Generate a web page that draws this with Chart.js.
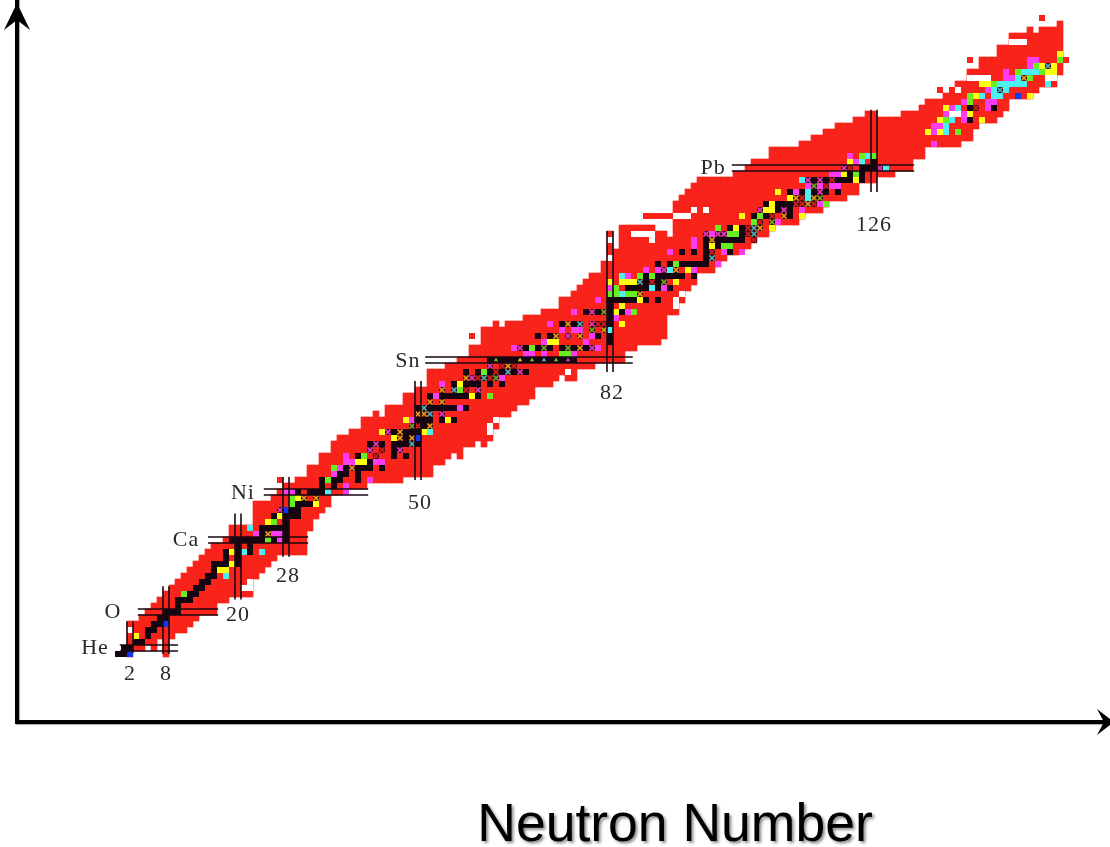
<!DOCTYPE html>
<html><head><meta charset="utf-8">
<style>html,body{margin:0;padding:0;background:#fff}#wrap{width:1110px;height:847px}canvas{display:block}</style>
<script src="https://cdn.jsdelivr.net/npm/chart.js@4"></script>
</head><body><div id="wrap"><canvas id="c"></canvas></div>
<script>
const xAxisTitle = "Neutron Number";
const neutrons = [2,3,4,5,6,7,8,9,10,11,12,13,14,15,16,17,18,19,20,21,22,23,24,25,26,27,28,29,30,31,32,33,34,35,36,37,38,39,40,41,42,43,44,45,46,47,48,49,50,51,52,53,54,55,56,57,58,59,60,61,62,63,64,65,66,67,68,69,70,71,72,73,74,75,76,77,78,79,80,81,82,83,84,85,86,87,88,89,90,91,92,93,94,95,96,97,98,99,100,101,102,103,104,105,106,107,108,109,110,111,112,113,114,115,116,117,118,119,120,121,122,123,124,125,126,127,128,129,130,131,132,133,134,135,136,137,138,139,140,141,142,143,144,145,146,147,148,149,150,151,152,153,154,155,156,157];
const bandTop = [6,6,7,8,9,10,11,12,13,14,15,16,17,18,19,19,20,22,22,22,22,26,26,26,27,28,29,29,30,30,32,32,34,34,36,37,37,38,38,40,40,41,40,42,42,42,44,44,45,45,48,48,48,49,49,50,50,52,52,55,55,56,55,56,56,56,57,57,57,58,58,58,60,60,61,62,63,64,64,66,71,68,72,72,72,72,72,72,71,71,70,76,77,78,79,80,80,80,80,80,80,81,81,82,83,83,83,85,85,85,85,85,86,86,87,87,88,88,89,89,89,90,90,91,91,90,90,90,90,91,91,91,92,93,93,93,94,94,96,96,98,98,100,100,100,102,102,104,104,104,105,104,105,105,105,106];
const bandBottom = [1,2,2,3,2,4,1,4,5,5,6,7,8,8,8,10,10,11,11,11,11,14,15,16,17,18,18,18,18,18,22,24,25,26,28,28,29,29,29,29,30,30,30,30,30,30,31,31,31,31,31,33,33,34,35,34,36,36,37,36,37,39,41,41,42,43,43,44,46,46,46,47,48,47,47,49,49,49,50,50,50,50,50,52,52,53,53,53,53,54,58,58,60,62,63,65,65,65,66,67,68,68,69,69,70,71,71,72,73,73,73,73,74,75,75,75,76,77,77,77,78,78,80,80,80,81,81,81,82,82,82,84,84,86,86,86,86,86,86,87,87,89,90,90,90,91,92,94,94,94,94,95,96,96,96,98];
const islandCells = [[27,30],[59,54],[88,74],[89,74],[90,74],[91,74],[92,74],[137,95],[139,95],[142,100],[154,107],[158,100]];
const gapCells = [[2,5],[21,12],[22,12],[22,13],[62,38],[62,39],[63,40],[75,48],[82,67],[82,70],[86,71],[87,71],[88,71],[89,71],[89,70],[93,74],[94,74],[95,74],[93,59],[93,60],[94,61],[96,75],[98,75],[139,91],[140,91],[140,95],[142,97],[143,97],[144,97],[145,97],[149,103],[150,103],[151,103],[155,97],[156,97]];
const blackCells = [[0,1],[1,1],[1,2],[2,2],[3,3],[4,3],[5,4],[5,5],[6,5],[6,6],[7,6],[7,7],[8,7],[8,8],[9,8],[10,8],[10,9],[10,10],[11,10],[12,10],[12,11],[13,11],[13,12],[14,12],[14,13],[15,13],[15,14],[16,14],[16,15],[16,16],[17,16],[18,16],[18,17],[18,18],[20,16],[20,17],[20,18],[20,19],[20,20],[19,20],[21,20],[22,20],[22,19],[22,18],[23,20],[24,20],[25,21],[26,20],[28,20],[24,21],[24,22],[25,22],[26,22],[27,22],[26,24],[28,21],[28,22],[28,23],[28,24],[29,24],[29,25],[30,24],[30,25],[30,26],[31,26],[32,26],[30,28],[32,28],[33,28],[34,28],[34,29],[34,30],[36,29],[36,30],[37,30],[37,31],[36,31],[38,31],[38,32],[40,30],[40,31],[40,32],[41,32],[42,32],[42,33],[40,34],[44,32],[42,36],[44,36],[46,34],[46,35],[46,36],[46,38],[47,36],[48,34],[48,36],[48,37],[48,38],[49,38],[50,36],[50,38],[50,40],[50,42],[51,39],[51,40],[52,40],[52,42],[53,42],[54,42],[55,42],[56,42],[58,42],[54,40],[56,40],[52,44],[54,44],[55,44],[56,44],[57,44],[58,44],[60,44],[56,46],[58,46],[59,46],[60,46],[62,46],[64,46],[58,48],[60,48],[62,48],[64,48],[66,48],[68,48],[62,50],[63,50],[64,50],[65,50],[66,50],[67,50],[68,50],[69,50],[70,50],[71,50],[72,50],[73,50],[74,50],[75,50],[76,50],[68,52],[70,52],[72,52],[74,52],[76,52],[78,52],[70,54],[72,54],[74,56],[76,56],[78,58],[80,58],[80,54],[82,60],[82,59],[82,58],[82,57],[82,56],[82,54],[82,53],[83,60],[84,60],[85,60],[86,60],[88,60],[90,60],[84,58],[85,62],[86,62],[87,62],[88,62],[90,62],[92,62],[88,63],[90,63],[88,64],[90,64],[91,64],[92,64],[93,64],[94,64],[96,64],[90,66],[92,66],[94,66],[95,66],[96,66],[97,66],[98,66],[98,67],[94,68],[96,68],[98,68],[102,68],[98,69],[100,69],[98,70],[100,70],[101,70],[102,70],[103,70],[104,70],[104,71],[102,72],[104,72],[106,74],[108,74],[110,75],[112,74],[112,75],[108,76],[110,76],[111,76],[112,76],[112,78],[114,78],[116,78],[118,78],[120,78],[116,80],[118,80],[120,80],[121,80],[122,80],[124,80],[122,81],[124,81],[124,82],[125,82],[126,82],[126,83],[142,90],[142,92],[146,92]];
const yellowCells = [[3,4],[17,15],[18,15],[19,16],[19,18],[25,23],[27,24],[30,27],[33,26],[40,33],[41,33],[44,38],[46,37],[48,40],[51,38],[55,40],[59,44],[57,46],[72,53],[73,53],[84,56],[84,59],[83,58],[84,63],[85,63],[86,63],[87,60],[93,63],[95,65],[99,69],[82,63],[103,72],[104,74],[108,75],[109,75],[109,76],[109,72],[110,78],[112,77],[114,74],[121,81],[123,80],[122,83],[135,88],[137,88],[137,90],[144,90],[138,92],[142,91],[143,94],[144,96],[145,96],[152,94],[155,98],[156,98],[154,99],[156,99],[157,101]];
const magentaCells = [[23,21],[26,21],[27,21],[27,20],[28,28],[29,28],[38,29],[38,28],[36,31],[38,33],[39,33],[38,34],[37,32],[42,30],[43,33],[44,33],[49,40],[53,44],[54,46],[57,42],[64,47],[66,52],[71,53],[74,55],[76,55],[77,55],[72,56],[76,58],[78,53],[79,54],[80,52],[68,51],[69,51],[71,51],[76,51],[80,60],[82,62],[83,57],[85,58],[85,64],[88,65],[90,65],[96,65],[91,62],[92,68],[96,69],[96,70],[99,71],[100,66],[101,68],[104,68],[110,73],[114,75],[113,78],[115,79],[117,79],[119,79],[120,79],[117,76],[119,81],[120,81],[122,84],[123,83],[136,86],[136,88],[136,89],[137,89],[138,91],[141,90],[141,91],[139,92],[141,93],[145,92],[145,93],[146,93],[145,95],[148,97],[149,97],[148,98],[152,99],[152,100],[153,100]];
const greenCells = [[11,11],[25,20],[26,23],[29,26],[29,27],[35,30],[36,32],[41,34],[57,45],[61,48],[62,44],[69,52],[74,51],[75,51],[82,61],[83,62],[83,61],[85,61],[86,61],[86,58],[87,64],[89,64],[93,66],[100,72],[101,69],[102,69],[102,71],[103,71],[106,73],[107,74],[118,76],[123,81],[124,84],[126,84],[140,88],[138,90],[142,93],[142,94],[146,96],[150,98],[152,97],[153,99],[154,98],[157,100]];
const cyanCells = [[18,14],[21,18],[22,22],[24,18],[35,28],[52,38],[82,55],[84,64],[84,61],[89,62],[92,65],[114,80],[115,78],[115,77],[124,83],[125,84],[128,82],[138,88],[138,89],[139,90],[140,92],[144,94],[146,94],[147,94],[146,95],[148,95],[147,96],[148,96],[149,96],[150,96],[151,96],[150,97],[151,98],[152,98],[153,98],[155,96]];
const blueCells = [[2,1],[8,6],[28,25],[50,37],[150,94]];
const orangeCross = [[25,21],[31,27],[33,27],[39,32],[47,37],[47,38],[49,37],[50,41],[51,41],[52,39],[52,43],[54,43],[54,45],[58,47],[65,49],[77,52],[73,54],[77,54],[75,56],[81,55],[87,61],[93,65],[99,70],[107,72],[111,74],[113,77],[115,76],[116,77],[151,97]];
const magentaCross = [[27,25],[43,36],[42,35],[45,38],[47,35],[54,41],[59,47],[60,45],[62,49],[67,48],[67,52],[75,54],[79,52],[79,56],[79,58],[91,65],[98,71],[100,71],[101,71],[107,75],[111,75],[115,80],[117,80],[117,78],[121,82],[127,82]];
const redCross = [[43,34],[44,35],[50,39],[58,45],[60,47],[62,47],[63,48],[64,49],[66,49],[81,56],[80,56],[89,63],[99,68],[105,71],[105,72],[107,73],[109,74],[113,76],[114,76],[114,77],[116,76],[118,79],[119,80],[122,82],[143,92],[106,70]];
const greenCross = [[49,39],[63,47],[71,52],[75,52],[79,55],[81,58],[91,63],[109,73],[116,79],[117,77]];
const cyanCross = [[49,36],[51,42],[52,41],[65,48],[77,56],[106,72],[56,45],[61,47],[87,63],[106,71],[147,95],[155,99],[99,67]];
const tinyGreen = [[63,50],[69,50],[73,50]];
const tinyYellow = [[67,50]];
const tinyCyan = [[71,50]];
const tinyMagenta = [[75,50]];
const magicNeutrons = [2,8,20,28,50,82,126];
const magicNeutronFrom = [1.2,1,10.1,17.2,30,48,78];
const magicNeutronTo = [6.4,12.3,24.4,30.5,46.5,71.5,91.7];
const magicProtons = [2,8,20,28,50,82];
const magicProtonFrom = [0.3,3.3,15,24.3,51.2,102.3];
const magicProtonTo = [10,16.7,31.7,41.7,85.8,132.7];
const labelTexts = ["He","O","Ca","Ni","Sn","Pb","2","8","20","28","50","82","126"];
const labelN = [-3.83,-0.83,11.33,20.83,48.33,99.17,2,8,20,28.33,50.33,82.33,126];
const labelZ = [2,8,20,27.83,49.83,82,-2.33,-2.33,7.5,14,26.17,44.5,72.5];

const RED='#f8231a', INK='#140510';
const toPts = a => a.map(p => ({x:p[0], y:p[1]}));
const cells = (pts,color) => ({type:'scatter',data:toPts(pts),pointStyle:'rect',pointRadius:3*Math.SQRT2,pointHoverRadius:3*Math.SQRT2,pointBackgroundColor:color,pointBorderWidth:0,showLine:false});
const crosses = (pts,color) => ({type:'scatter',data:toPts(pts),pointStyle:'crossRot',pointRadius:3.6,pointHoverRadius:3.6,pointBorderColor:color,pointBorderWidth:1.6,showLine:false});
const tiny = (pts,color) => ({type:'scatter',data:toPts(pts),pointStyle:'triangle',pointRadius:2.4,pointHoverRadius:2.4,pointBackgroundColor:color,pointBorderWidth:0,showLine:false});
const segV = [], segH = [];
magicNeutrons.forEach((n,i) => { for (const d of [-0.5,0.5]) segV.push({x:n+d,y:magicNeutronFrom[i]},{x:n+d,y:magicNeutronTo[i]},{x:n+d,y:null}); });
magicProtons.forEach((z,i) => { for (const d of [-0.5,0.5]) segH.push({x:magicProtonFrom[i],y:z+d},{x:magicProtonTo[i],y:z+d},{x:magicProtonTo[i],y:null}); });
const lines = d => ({type:'scatter',data:d,showLine:true,spanGaps:false,borderColor:'#1a0a12',borderWidth:1.6,pointRadius:0,pointHoverRadius:0});

const allCross = orangeCross.concat(magentaCross,redCross,greenCross,cyanCross);
const layers = [
  {type:'bar',data:neutrons.map((n,i)=>({x:n,y:[bandBottom[i]-0.5,bandTop[i]+0.5]})),backgroundColor:RED,borderWidth:0,barThickness:6,grouped:false},
  cells(islandCells,RED),
  cells(gapCells,'#ffffff'),
  cells(blackCells,INK),
  cells(yellowCells,'#ffff10'),
  cells(magentaCells,'#fa3cf5'),
  cells(greenCells,'#66ee20'),
  cells(cyanCells,'#4df0f0'),
  cells(blueCells,'#1438f0'),
  cells(allCross,'#3a0810'),
  crosses(orangeCross,'#f5a010'),
  crosses(magentaCross,'#f03cc8'),
  crosses(redCross,'#e02018'),
  crosses(greenCross,'#70b020'),
  crosses(cyanCross,'#50b8c0'),
  tiny(tinyGreen,'#70d020'),
  tiny(tinyYellow,'#e8e010'),
  tiny(tinyCyan,'#50c8d8'),
  tiny(tinyMagenta,'#f03cc8'),
  lines(segV),
  lines(segH)
];
const datasets = layers.slice().reverse();

const decor = {
  id:'decor',
  beforeDraw(ch){ const c=ch.ctx; c.shadowColor='rgba(0,0,0,.35)'; c.shadowOffsetX=1; c.shadowOffsetY=1; c.shadowBlur=1; },
  beforeDatasetsDraw(ch){ const c=ch.ctx; c.shadowColor='transparent'; c.shadowOffsetX=0; c.shadowOffsetY=0; c.shadowBlur=0; },
  afterDraw(ch){
    const c=ch.ctx, a=ch.chartArea, xs=ch.scales.x, ys=ch.scales.y;
    c.save();
    c.fillStyle='#000';
    const L=a.left, B=a.bottom;
    c.beginPath(); c.moveTo(L,3); c.lineTo(L-13,30); c.lineTo(L,20); c.lineTo(L+13,30); c.closePath(); c.fill();
    const R=a.right+4;
    c.beginPath(); c.moveTo(R,B); c.lineTo(R-17,B-13); c.lineTo(R-10,B); c.lineTo(R-17,B+13); c.closePath(); c.fill();
    c.textAlign='center'; c.textBaseline='middle';
    c.fillStyle='#2a2a2a'; c.font='22px "Liberation Serif"'; c.letterSpacing='1px';
    labelTexts.forEach((t,i)=>c.fillText(t,xs.getPixelForValue(labelN[i]),ys.getPixelForValue(labelZ[i])));
    c.letterSpacing='0px';
    c.shadowColor='rgba(0,0,0,.45)'; c.shadowOffsetX=2; c.shadowOffsetY=2; c.shadowBlur=3;
    c.fillStyle='#000'; c.font='53.5px "Liberation Sans"';
    c.fillText(xAxisTitle,xs.getPixelForValue(92.83),ys.getPixelForValue(-27.7));
    c.restore();
  }
};

new Chart(document.getElementById('c'),{
  type:'bar',
  data:{datasets},
  plugins:[decor],
  options:{
    responsive:true,maintainAspectRatio:false,animation:false,
    events:[],
    layout:{autoPadding:false,padding:{left:17,right:0,top:0,bottom:125}},
    plugins:{legend:{display:false},tooltip:{enabled:false},title:{display:false}},
    scales:{
      x:{type:'linear',offset:false,min:-16.8333,max:165.3333,grid:{display:false,drawTicks:false},ticks:{display:false},border:{display:true,color:'#000',width:4},afterFit(s){s.height=0;}},
      y:{type:'linear',min:-10.3333,max:110,grid:{display:false,drawTicks:false},ticks:{display:false},border:{display:true,color:'#000',width:4},afterFit(s){s.width=0;}}
    }
  }
});
</script></body></html>
